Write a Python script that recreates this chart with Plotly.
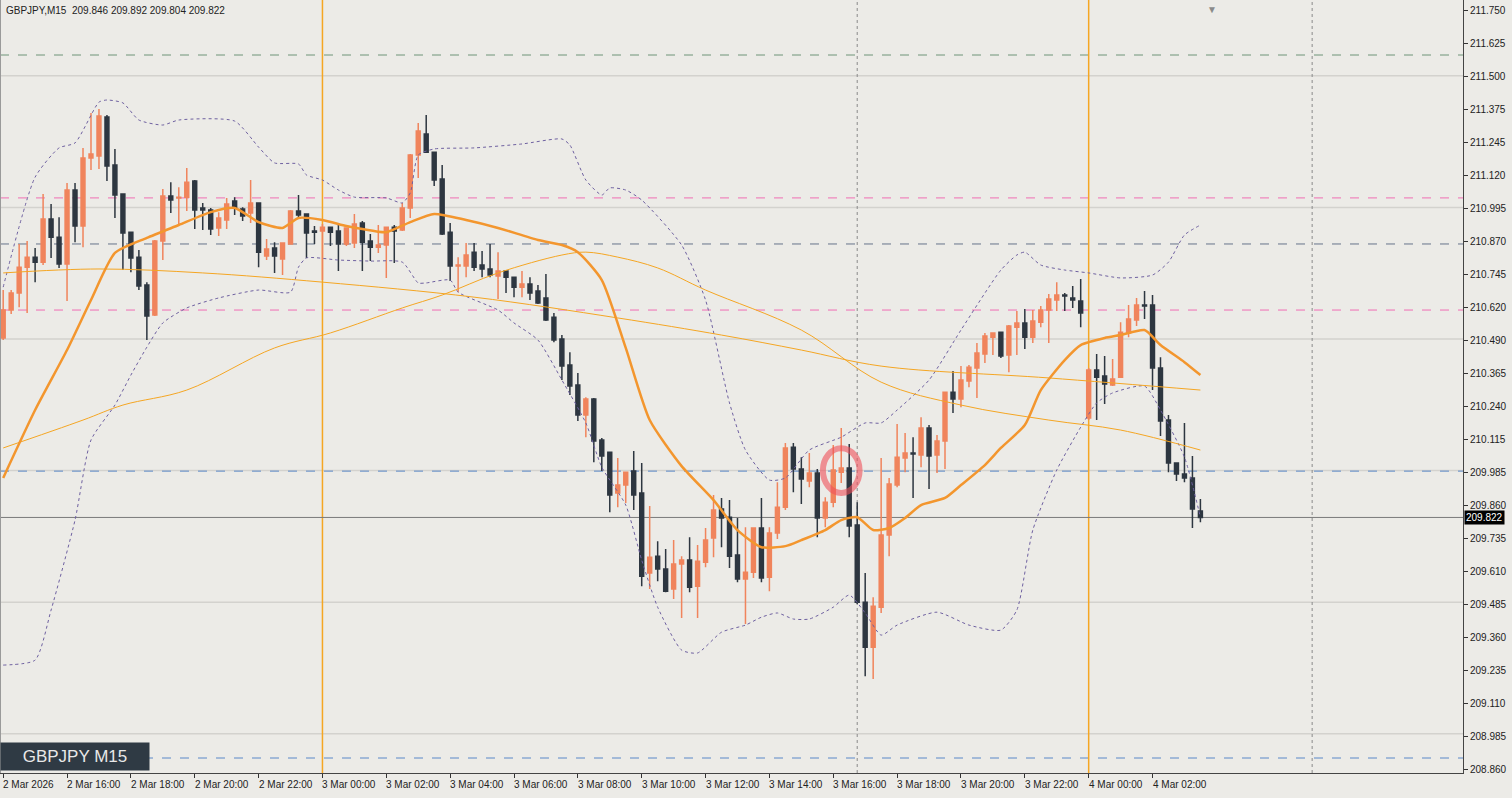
import plotly.graph_objects as go

# ---------------- data ----------------
opens = [210.504,210.610,210.675,210.773,210.811,210.792,210.956,210.887,210.785,211.066,
 210.929,211.188,211.195,211.343,211.161,211.051,210.906,210.811,210.705,210.591,
 210.872,211.043,211.036,211.039,211.100,210.998,210.990,210.922,210.952,211.024,
 210.994,210.979,211.017,210.815,210.846,210.804,210.861,210.986,210.975,210.910,
 210.910,210.925,210.910,210.861,210.865,210.941,210.872,210.849,210.857,210.925,
 210.914,210.998,211.199,211.279,211.210,211.108,210.906,210.777,210.777,210.830,
 210.781,210.766,210.739,210.758,210.735,210.697,210.709,210.682,210.656,210.583,
 210.500,210.401,210.325,210.211,210.272,210.116,210.070,209.915,209.945,209.998,
 209.915,209.611,209.675,209.626,209.550,209.645,209.660,209.561,209.652,209.744,
 209.854,209.823,209.679,209.588,209.614,209.782,209.595,209.763,209.861,210.089,
 210.006,209.960,209.991,209.820,209.880,209.994,210.010,209.793,209.500,209.329,
 209.481,209.755,209.945,210.048,210.067,210.059,210.162,210.059,210.112,210.298,
 210.272,210.340,210.390,210.443,210.507,210.526,210.439,210.545,210.561,210.507,
 210.564,210.610,210.648,210.667,210.656,210.644,210.200,210.382,210.359,210.325,
 210.355,210.523,210.572,210.629,210.629,210.390,210.192,210.029,209.987,209.972,
 209.846]
highs = [210.686,210.686,210.861,210.872,210.846,211.051,211.013,210.963,211.093,211.093,
 211.226,211.359,211.374,211.351,211.222,211.051,210.906,210.838,210.716,210.876,
 211.070,211.096,211.077,211.150,211.104,211.017,210.998,210.982,211.036,211.039,
 211.001,211.104,211.017,210.880,210.868,210.868,210.990,211.047,210.975,210.929,
 210.937,210.925,210.933,210.922,210.975,210.948,210.899,210.933,210.925,210.933,
 211.017,211.203,211.321,211.351,211.210,211.161,210.941,210.811,210.865,210.865,
 210.834,210.861,210.830,210.758,210.735,210.758,210.735,210.705,210.747,210.599,
 210.515,210.450,210.371,210.279,210.276,210.124,210.070,210.048,209.994,210.074,
 210.029,209.865,209.732,209.702,209.736,209.675,209.747,209.717,209.782,209.907,
 209.896,209.888,209.820,209.785,209.785,209.896,209.785,209.956,210.105,210.105,
 210.051,210.067,210.006,209.899,210.097,210.162,210.101,209.880,209.611,209.519,
 210.048,209.972,210.177,210.143,210.127,210.203,210.173,210.135,210.298,210.378,
 210.397,210.401,210.485,210.523,210.526,210.526,210.553,210.606,210.614,210.610,
 210.625,210.671,210.716,210.675,210.701,210.728,210.390,210.443,210.435,210.424,
 210.564,210.629,210.656,210.682,210.667,210.431,210.211,210.029,210.181,210.055,
 209.892]
lows = [210.496,210.595,210.621,210.599,210.716,210.781,210.808,210.770,210.644,210.868,
 210.849,211.142,211.146,211.100,210.960,210.762,210.754,210.686,210.496,210.587,
 210.800,210.979,210.933,210.986,210.918,210.914,210.895,210.891,210.918,210.971,
 210.948,210.941,210.773,210.800,210.751,210.743,210.861,210.963,210.808,210.861,
 210.724,210.853,210.758,210.853,210.846,210.758,210.796,210.827,210.732,210.789,
 210.910,210.960,211.112,211.207,211.081,210.895,210.720,210.678,210.735,210.758,
 210.735,210.735,210.652,210.675,210.659,210.659,210.648,210.633,210.568,210.488,
 210.344,210.287,210.188,210.127,210.032,209.998,209.842,209.861,209.877,209.850,
 209.561,209.550,209.580,209.538,209.512,209.440,209.538,209.440,209.633,209.671,
 209.709,209.630,209.576,209.417,209.592,209.576,209.542,209.740,209.850,209.918,
 209.873,209.937,209.747,209.785,209.861,209.953,209.747,209.493,209.219,209.208,
 209.459,209.675,209.937,209.994,209.896,210.013,209.930,209.991,210.006,210.219,
 210.241,210.317,210.276,210.409,210.439,210.428,210.374,210.439,210.462,210.485,
 210.545,210.485,210.606,210.606,210.618,210.545,210.192,210.192,210.253,210.321,
 210.355,210.507,210.549,210.576,210.306,210.131,209.994,209.960,209.956,209.782,
 209.804]
closes = [210.610,210.675,210.773,210.811,210.792,210.956,210.887,210.785,211.066,210.929,
 211.188,211.203,211.347,211.157,211.047,210.903,210.808,210.701,210.587,210.872,
 211.043,211.028,211.039,211.096,210.990,210.990,210.918,210.960,211.013,210.998,
 210.967,211.017,210.830,210.842,210.815,210.865,210.986,210.971,210.903,210.906,
 210.925,210.906,210.861,210.922,210.937,210.868,210.849,210.857,210.925,210.910,
 210.998,211.199,211.290,211.210,211.104,210.899,210.777,210.781,210.819,210.773,
 210.766,210.743,210.758,210.735,210.697,210.709,210.675,210.637,210.572,210.496,
 210.397,210.321,210.211,210.272,210.112,210.055,209.907,209.945,209.994,209.907,
 209.599,209.671,209.626,209.542,209.645,209.660,209.557,209.656,209.736,209.850,
 209.820,209.675,209.588,209.614,209.782,209.592,209.763,209.861,210.086,210.006,
 209.968,209.991,209.820,209.880,210.002,210.010,209.789,209.500,209.329,209.485,
 209.755,209.949,210.051,210.067,210.063,210.162,210.055,210.112,210.298,210.272,
 210.344,210.393,210.447,210.511,210.523,210.435,210.549,210.561,210.507,210.568,
 210.610,210.652,210.667,210.663,210.648,210.599,210.382,210.355,210.329,210.348,
 210.526,210.576,210.629,210.625,210.390,210.188,210.029,209.987,209.972,209.854,
 209.822]
bars = list(range(len(closes)))

ma20_x = [0,4,8,11,14,18,22,26,29,32,35,37,40,43,45,48,51,54,58,62,67,70,72,75,78,81,85,89,92,95,98,100,103,105,107,109,111,113,115,118,120,123,125,128,130,133,135,138,140,143,145,148,150]
ma20_y = [209.972,210.230,210.458,210.648,210.827,210.884,210.933,210.982,210.998,210.944,210.922,210.960,210.952,210.929,210.918,210.906,210.944,210.975,210.952,210.922,210.876,210.857,210.830,210.724,210.466,210.192,210.017,209.888,209.774,209.709,209.713,209.736,209.774,209.812,209.823,209.774,209.782,209.820,209.869,209.896,209.945,210.021,210.086,210.173,210.306,210.420,210.477,210.504,210.515,210.534,210.477,210.412,210.363]

ma_long_x = [0,12,25,40,59,77,90,100,110,131,150]
ma_long_y = [210.751,210.766,210.751,210.716,210.659,210.580,210.515,210.458,210.397,210.352,210.306]

ma_mid_x = [0,10,15,23,34,41,50,55,62,70,73,77,82,88,100,110,120,131,140,150]
ma_mid_y = [210.086,210.192,210.249,210.306,210.466,210.523,210.618,210.667,210.751,210.819,210.830,210.811,210.770,210.686,210.534,210.336,210.249,210.192,210.154,210.078]

bb_up_x = [0,4,7,9,12,13,15,17,20,22,29,32,34,37,38,40,42,44,48,50,51,52,54,59,65,70,71,73,75,76,78,80,85,88,91,93,96,98,101,105,108,110,112,116,120,125,127,128,130,133,136,140,144,146,148,150]
bb_up_y = [210.697,211.115,211.226,211.245,211.400,211.408,211.397,211.332,211.313,211.332,211.328,211.229,211.169,211.165,211.123,211.104,211.066,211.039,211.036,211.017,211.055,211.199,211.222,211.226,211.241,211.260,211.237,211.104,211.047,211.074,211.066,211.028,210.857,210.648,210.257,210.078,209.964,209.972,210.078,210.127,210.181,210.181,210.230,210.344,210.534,210.762,210.819,210.830,210.781,210.762,210.751,210.732,210.743,210.792,210.895,210.933]

bb_lo_x = [0,4,6,9,11,14,16,18,20,23,27,32,36,37,38,42,46,50,52,53,56,57,62,64,67,70,73,75,78,80,82,85,87,90,93,95,97,99,101,104,106,108,110,112,117,121,125,127,129,132,135,137,139,143,145,148,150]
bb_lo_y = [209.261,209.280,209.470,209.812,210.116,210.249,210.363,210.469,210.561,210.618,210.656,210.686,210.678,210.773,210.808,210.800,210.796,210.792,210.713,210.713,210.724,210.678,210.610,210.561,210.496,210.344,210.181,210.013,209.869,209.660,209.481,209.318,209.307,209.386,209.413,209.443,209.459,209.436,209.436,209.481,209.527,209.459,209.375,209.413,209.462,209.413,209.394,209.470,209.774,210.002,210.165,210.257,210.295,210.321,210.230,210.051,209.823]

time_labels = ["2 Mar 2026","2 Mar 16:00","2 Mar 18:00","2 Mar 20:00","2 Mar 22:00",
 "3 Mar 00:00","3 Mar 02:00","3 Mar 04:00","3 Mar 06:00","3 Mar 08:00","3 Mar 10:00",
 "3 Mar 12:00","3 Mar 14:00","3 Mar 16:00","3 Mar 18:00","3 Mar 20:00","3 Mar 22:00",
 "4 Mar 00:00","4 Mar 02:00"]
time_label_bars = [0,8,16,24,32,40,48,56,64,72,80,88,96,104,112,120,128,136,144]

price_ticks = ["211.750","211.625","211.500","211.375","211.245","211.120","210.995","210.870",
 "210.745","210.620","210.490","210.365","210.240","210.115","209.985","209.860","209.735",
 "209.610","209.485","209.360","209.235","209.110","208.985","208.860"]
price_tick_vals = [211.750 - k*0.12542 for k in range(len(price_ticks))]

round_levels = [211.5, 211.0, 210.5, 210.0, 209.5, 209.0]
pink_levels = [211.036, 210.610]
slate_level = 210.861
green_level = 211.579
blue_levels = [209.998, 208.908]
orange_vlines = [40, 136]
dotted_vlines = [107, 164]
last_price = 209.822

BG = "#ecebe7"
BULL = "#f0845c"
BEAR = "#2d3640"
FONT = "Liberation Sans"

fig = go.Figure()

shapes = []
for lv in round_levels:
    shapes.append(dict(type="line", xref="paper", x0=0, x1=1, y0=lv, y1=lv,
                       line=dict(color="#d3d2ce", width=1.5), layer="below"))
for lv in pink_levels:
    shapes.append(dict(type="line", xref="paper", x0=0, x1=1, y0=lv, y1=lv,
                       line=dict(color="#f06eb4", width=1, dash="dash"), layer="below"))
shapes.append(dict(type="line", xref="paper", x0=0, x1=1, y0=slate_level, y1=slate_level,
                   line=dict(color="#66748a", width=1, dash="dash"), layer="below"))
shapes.append(dict(type="line", xref="paper", x0=0, x1=1, y0=green_level, y1=green_level,
                   line=dict(color="#6f9478", width=1, dash="dash"), layer="below"))
for lv in blue_levels:
    shapes.append(dict(type="line", xref="paper", x0=0, x1=1, y0=lv, y1=lv,
                       line=dict(color="#5a88c8", width=1, dash="dash"), layer="below"))
for b in orange_vlines:
    shapes.append(dict(type="line", yref="paper", x0=b, x1=b, y0=0, y1=1,
                       line=dict(color="#f5a623", width=1.5), layer="below"))
for b in dotted_vlines:
    shapes.append(dict(type="line", yref="paper", x0=b, x1=b, y0=0, y1=1,
                       line=dict(color="#8a8a8a", width=1, dash="dot"), layer="below"))
shapes.append(dict(type="line", xref="paper", x0=0, x1=1, y0=last_price, y1=last_price,
                   line=dict(color="#7a7a7a", width=1), layer="below"))
shapes.append(dict(type="line", xref="paper", yref="paper", x0=0, x1=0, y0=0, y1=1,
                   line=dict(color="#9a9a9a", width=2)))
shapes.append(dict(type="circle", x0=102.7, x1=107.3, y0=209.915, y1=210.085,
                   line=dict(color="rgba(240,80,90,0.6)", width=6), layer="above"))

for xs, ys in [(bb_up_x, bb_up_y), (bb_lo_x, bb_lo_y)]:
    fig.add_trace(go.Scatter(x=xs, y=ys, mode="lines", hoverinfo="skip",
                             line=dict(color="#6e60a0", width=1, dash="dot", shape="spline", smoothing=0.6)))
fig.add_trace(go.Scatter(x=ma_long_x, y=ma_long_y, mode="lines", hoverinfo="skip",
                         line=dict(color="#f5a623", width=1, shape="spline")))
fig.add_trace(go.Scatter(x=ma_mid_x, y=ma_mid_y, mode="lines", hoverinfo="skip",
                         line=dict(color="#f5a623", width=1, shape="spline")))

fig.add_trace(go.Candlestick(x=bars, open=opens, high=highs, low=lows, close=closes,
    increasing=dict(line=dict(color=BULL, width=1.5), fillcolor=BULL),
    decreasing=dict(line=dict(color=BEAR, width=1.5), fillcolor=BEAR),
    whiskerwidth=0))

fig.add_trace(go.Scatter(x=ma20_x, y=ma20_y, mode="lines", hoverinfo="skip",
                         line=dict(color="#f3962e", width=2.5, shape="spline", smoothing=0.6)))

annotations = []
for b, t in zip(time_label_bars, time_labels):
    annotations.append(dict(x=b, y=0, xref="x", yref="paper", text=t, showarrow=False,
                            xanchor="left", yanchor="top", yshift=-4, xshift=-2,
                            font=dict(size=10, color="#222", family=FONT)))
annotations.append(dict(x=0.003, y=1, xref="paper", yref="paper", xanchor="left", yanchor="top",
                        yshift=-3, showarrow=False,
                        text="GBPJPY,M15  209.846 209.892 209.804 209.822",
                        font=dict(size=10, color="#222", family=FONT)))
annotations.append(dict(x=0, y=0.002, xref="paper", yref="paper", xanchor="left", yanchor="bottom",
                        showarrow=False, text="GBPJPY M15", bgcolor="#2f3a44",
                        borderpad=4, font=dict(size=17, color="#e8e8e8", family=FONT),
                        width=140, align="center"))
annotations.append(dict(x=1, y=last_price, xref="paper", yref="y", xanchor="left", yanchor="middle",
                        xshift=1, showarrow=False, text="209.822", bgcolor="#000000",
                        borderpad=1, font=dict(size=10, color="#ffffff", family=FONT)))
annotations.append(dict(x=151.5, y=1, xref="x", yref="paper", yanchor="top", showarrow=False,
                        text="▼", font=dict(size=10, color="#8a8a8a")))

fig.update_layout(
    width=1512, height=798, margin=dict(l=0, r=49, t=0, b=25, autoexpand=False),
    paper_bgcolor=BG, plot_bgcolor=BG, showlegend=False,
    shapes=shapes, annotations=annotations,
    xaxis=dict(range=[-0.4, 182.9], showgrid=False, zeroline=False, rangeslider=dict(visible=False),
               tickmode="array", tickvals=time_label_bars, ticktext=[""]*len(time_label_bars),
               ticks="outside", ticklen=4, tickcolor="#333", showline=True, linecolor="#444", linewidth=1,
               fixedrange=True, automargin=False),
    yaxis=dict(range=[208.851, 211.788], side="right", showgrid=False, zeroline=False,
               tickmode="array", tickvals=price_tick_vals, ticktext=price_ticks,
               ticks="outside", ticklen=4, tickcolor="#333", showline=True, linecolor="#444", linewidth=1,
               tickfont=dict(size=10, color="#222", family=FONT), automargin=False),
)

fig.write_html("out.html", config={"displayModeBar": False},
               post_script="document.body.style.margin='0';document.body.style.overflow='hidden';document.body.style.background='#ecebe7';")
